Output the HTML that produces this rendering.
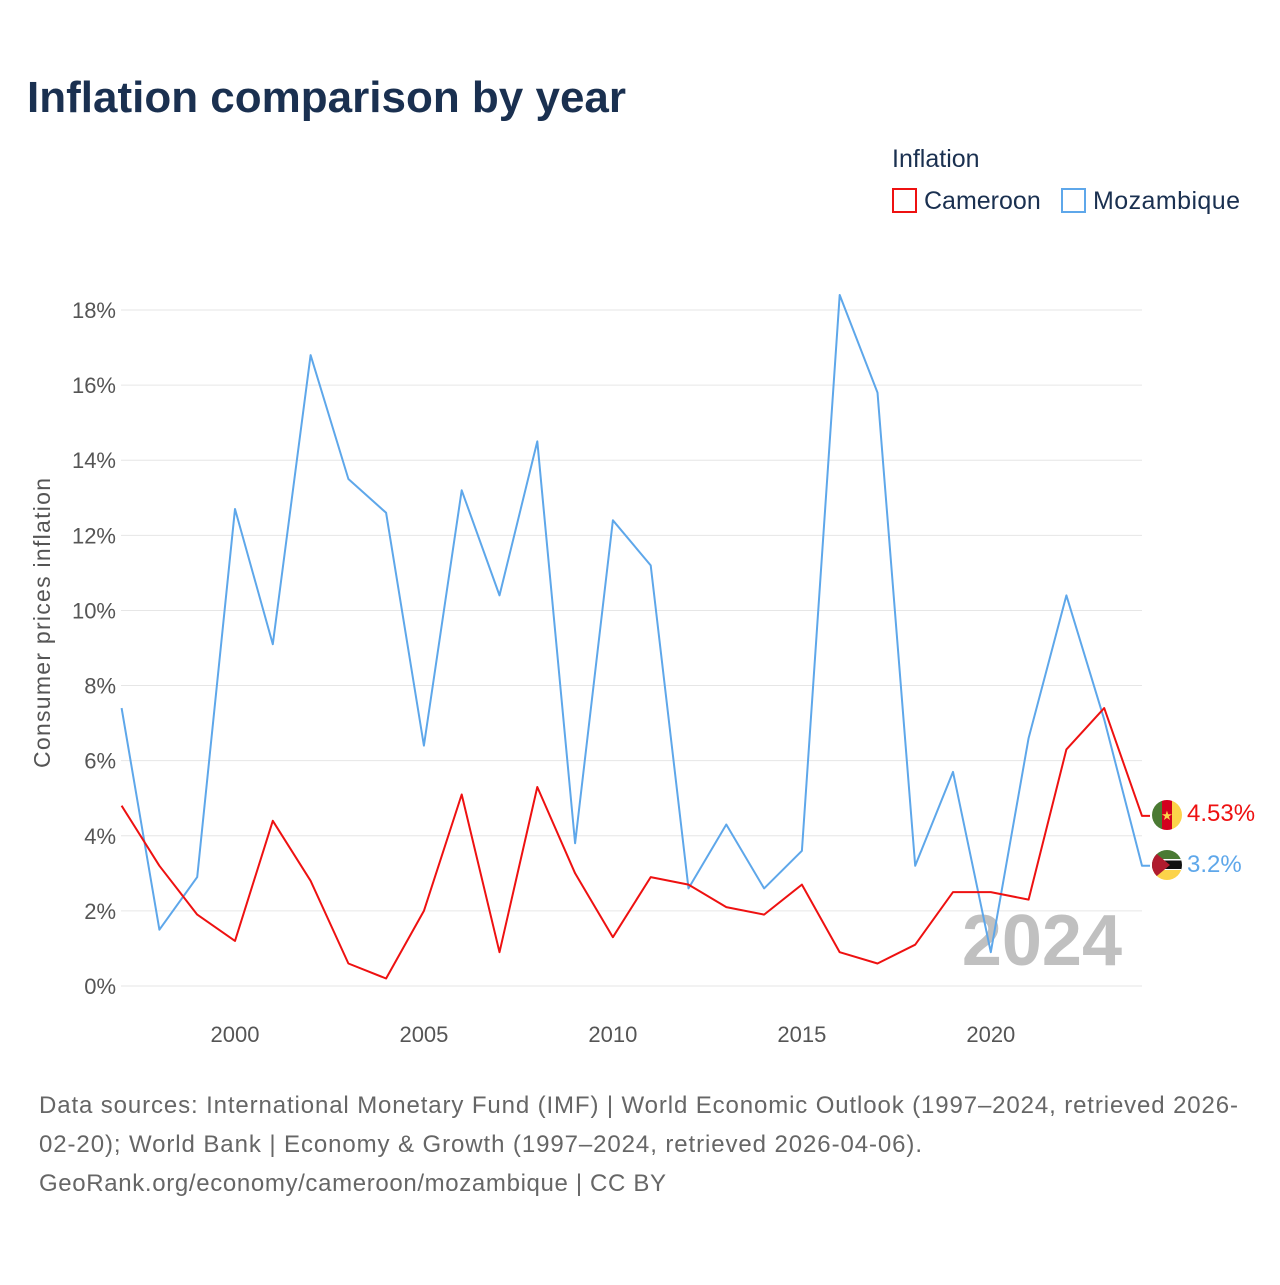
<!DOCTYPE html>
<html><head><meta charset="utf-8">
<style>
body{margin:0;background:#fff;font-family:"Liberation Sans",sans-serif;}
#wrap{position:relative;width:1280px;height:1280px;}
</style></head>
<body>
<div id="wrap">
<svg id="chart" width="1280" height="1280">
<text x="27" y="112" font-size="44" font-weight="bold" fill="#1a3050">Inflation comparison by year</text>
<text x="892" y="167" font-size="25" fill="#1a3050">Inflation</text>
<g>
<rect x="893" y="189" width="23" height="23" fill="none" stroke="#ee1111" stroke-width="2"/>
<text x="924" y="209" font-size="25" fill="#1a3050">Cameroon</text></g>
<g>
<rect x="1062" y="189" width="23" height="23" fill="none" stroke="#5ea7ea" stroke-width="2"/>
<text x="1093" y="209" font-size="25" fill="#1a3050" textLength="147">Mozambique</text></g>
<text transform="translate(50,623) rotate(-90)" text-anchor="middle" font-size="23" fill="#555" textLength="290">Consumer prices inflation</text>
<g id="grid"></g>
<text x="1122" y="965" text-anchor="end" font-size="72" font-weight="bold" fill="#c0c0c0">2024</text>
<g id="series"></g>
<g>
<clipPath id="c1"><circle cx="1167" cy="815" r="15"/></clipPath>
<g clip-path="url(#c1)"><rect x="1152" y="800" width="10" height="30" fill="#4a7a33"/><rect x="1162" y="800" width="10" height="30" fill="#d4001e"/><rect x="1172" y="800" width="10" height="30" fill="#fcd34a"/></g>
<text x="1167" y="820" text-anchor="middle" font-size="13" fill="#fcd34a">★</text></g>
<g>
<clipPath id="c2"><circle cx="1167" cy="865" r="15"/></clipPath>
<g clip-path="url(#c2)"><rect x="1152" y="850" width="30" height="10" fill="#4a7a33"/><rect x="1152" y="860" width="30" height="10" fill="#111"/><rect x="1152" y="859" width="30" height="1.5" fill="#fff"/><rect x="1152" y="869" width="30" height="1.5" fill="#fff"/><rect x="1152" y="870" width="30" height="10" fill="#fcd34a"/><polygon points="1152,850 1170,865 1152,880" fill="#b01b2e"/></g></g>
<text x="1187" y="821" font-size="24" fill="#ee1111">4.53%</text>
<text x="1187" y="872" font-size="24" fill="#5ea7ea">3.2%</text>
<g font-size="24" fill="#666">
<text x="39" y="1113" textLength="1199">Data sources: International Monetary Fund (IMF) | World Economic Outlook (1997–2024, retrieved 2026-</text>
<text x="39" y="1152" textLength="883">02-20); World Bank | Economy &amp; Growth (1997–2024, retrieved 2026-04-06).</text>
<text x="39" y="1191" textLength="627">GeoRank.org/economy/cameroon/mozambique | CC BY</text></g>
</svg></div>
<script>
const years=[1997,1998,1999,2000,2001,2002,2003,2004,2005,2006,2007,2008,2009,2010,2011,2012,2013,2014,2015,2016,2017,2018,2019,2020,2021,2022,2023,2024];
const cameroon=[4.8,3.2,1.9,1.2,4.4,2.8,0.6,0.2,2.0,5.1,0.9,5.3,3.0,1.3,2.9,2.7,2.1,1.9,2.7,0.9,0.6,1.1,2.5,2.5,2.3,6.3,7.4,4.53];
const mozambique=[7.4,1.5,2.9,12.7,9.1,16.8,13.5,12.6,6.4,13.2,10.4,14.5,3.8,12.4,11.2,2.6,4.3,2.6,3.6,18.4,15.8,3.2,5.7,0.9,6.6,10.4,7.1,3.2];
const yTicks=[0,2,4,6,8,10,12,14,16,18];
const xTicks=[2000,2005,2010,2015,2020];
const NS="http://www.w3.org/2000/svg";
const x=v=>121.6+(v-1997)*(1142-121.6)/27;
const y=v=>986-v*(986-310)/18;
const grid=document.getElementById('grid');
function el(t,a,p){const e=document.createElementNS(NS,t);for(const k in a)e.setAttribute(k,a[k]);p.appendChild(e);return e;}
yTicks.forEach(t=>{
 const l=el('line',{x1:121,x2:1142,y1:y(t),y2:y(t),stroke:'#e6e6e6','stroke-width':1},grid);
 
 
 const tx=el('text',{x:116,y:y(t)+8,'text-anchor':'end','font-size':22,fill:'#555'},grid);
 tx.textContent=t+'%';
 
 
});
xTicks.forEach(t=>{
 const tx=el('text',{x:x(t),y:1042,'text-anchor':'middle','font-size':22,fill:'#555'},grid);
 tx.textContent=t;
 
 
});
const ser=document.getElementById('series');
function draw(vals,color,name){
 let d=vals.map((v,i)=>(i?'L':'M')+x(years[i]).toFixed(1)+','+y(v).toFixed(1)).join(' ');
 const last=vals[vals.length-1];
 d+=' L1150,'+y(last).toFixed(1);
 const p=el('path',{d:d,fill:'none',stroke:color,'stroke-width':2,'stroke-linejoin':'round'},ser);
 
 
}
draw(mozambique,'#5ea7ea','line-mozambique');
draw(cameroon,'#ee1111','line-cameroon');
</script>
</body></html>
